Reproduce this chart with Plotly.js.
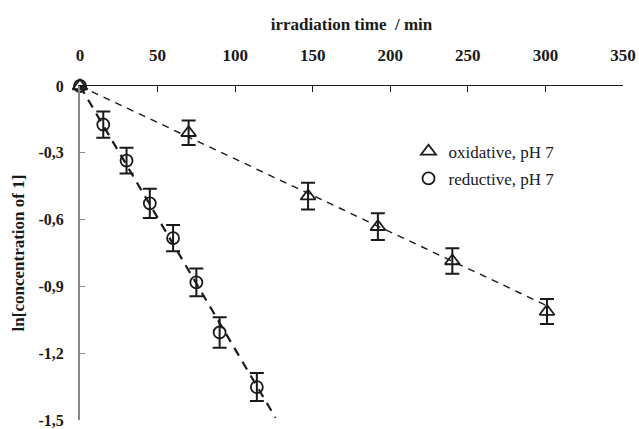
<!DOCTYPE html>
<html>
<head>
<meta charset="utf-8">
<script src="https://cdn.plot.ly/plotly-3.0.1.min.js"></script>
<style>html,body{margin:0;padding:0;background:#fff;}#chart{width:639px;height:429px;}</style>
</head>
<body>
<div id="chart"></div>
<script>
// Data
const oxTime = [0, 70, 147, 192, 240, 301];
const oxLn   = [0, -0.21, -0.495, -0.632, -0.786, -1.013];
const oxErr  = [0, 0.055, 0.06, 0.06, 0.057, 0.056];

const redTime = [0, 15, 30, 45, 60, 75, 90, 114];
const redLn   = [0, -0.173, -0.335, -0.527, -0.683, -0.882, -1.107, -1.352];
const redErr  = [0, 0.059, 0.058, 0.066, 0.059, 0.062, 0.068, 0.063];

// Linear fit lines (endpoints)
const oxFitTime = [0, 302];
const oxFitLn   = [0, -0.99];
const redFitTime = [0, 126];
const redFitLn   = [0, -1.49];

const xTickVals = [0, 50, 100, 150, 200, 250, 300, 350];
const yTickVals = [0, -0.3, -0.6, -0.9, -1.2, -1.5];
const yTickText = ['0', '-0,3', '-0,6', '-0,9', '-1,2', '-1,5'];

const serif = 'Liberation Serif';
const ink = '#1a1a1a';

const traces = [
  {x: oxFitTime, y: oxFitLn, mode: 'lines', showlegend: false, hoverinfo: 'skip',
   line: {color: ink, width: 1.4, dash: '7px,6px'}},
  {x: redFitTime, y: redFitLn, mode: 'lines', showlegend: false, hoverinfo: 'skip',
   line: {color: ink, width: 2.2, dash: '9px,7px'}},
  {x: oxTime, y: oxLn, mode: 'markers', name: 'oxidative, pH 7', legendgroup: 'a',
   marker: {symbol: 'triangle-up-open', size: 13, color: ink, line: {width: 1.8, color: ink}},
   error_y: {type: 'data', array: oxErr, visible: true, color: ink, thickness: 2, width: 7},
   cliponaxis: false},
  {x: redTime, y: redLn, mode: 'markers', name: 'reductive, pH 7', legendgroup: 'b',
   marker: {symbol: 'circle-open', size: 12, color: ink, line: {width: 1.8, color: ink}},
   error_y: {type: 'data', array: redErr, visible: true, color: ink, thickness: 2, width: 7},
   cliponaxis: false}
];

const layout = {
  width: 639, height: 429,
  margin: {l: 80, r: 16, t: 86, b: 9},
  paper_bgcolor: '#fff', plot_bgcolor: '#fff',
  font: {family: serif, color: ink, size: 16},
  showlegend: true,
  legend: {x: 0.605, y: 0.857, xanchor: 'left', yanchor: 'top',
    font: {family: serif, size: 17, color: ink}, bgcolor: 'rgba(0,0,0,0)',
    tracegroupgap: 2, traceorder: 'grouped'},
  xaxis: {
    side: 'top', range: [0, 350], tickvals: xTickVals,
    ticks: 'inside', ticklen: 6, tickwidth: 1.2, tickcolor: ink,
    showline: true, linecolor: ink, linewidth: 1.4,
    showgrid: false, zeroline: false,
    tickfont: {family: serif, size: 17, weight: 'bold', color: ink},
    ticklabelstandoff: 17, ticklabeloverflow: 'allow',
    title: {text: 'irradiation time  / min', font: {family: serif, size: 17, weight: 'bold', color: ink}, standoff: 11}
  },
  yaxis: {
    range: [-1.5, 0], tickvals: yTickVals, ticktext: yTickText,
    ticks: 'inside', ticklen: 5, tickwidth: 1.2, tickcolor: '#888',
    showline: true, linecolor: '#888', linewidth: 2,
    showgrid: false, zeroline: false,
    tickfont: {family: serif, size: 16, weight: 'bold', color: ink},
    ticklabelstandoff: 11, ticklabeloverflow: 'allow',
    title: {text: 'ln[concentration of 1]', font: {family: serif, size: 17, weight: 'bold', color: ink}, standoff: 10}
  }
};

Plotly.newPlot('chart', traces, layout, {displayModeBar: false, staticPlot: true});
</script>
</body>
</html>
